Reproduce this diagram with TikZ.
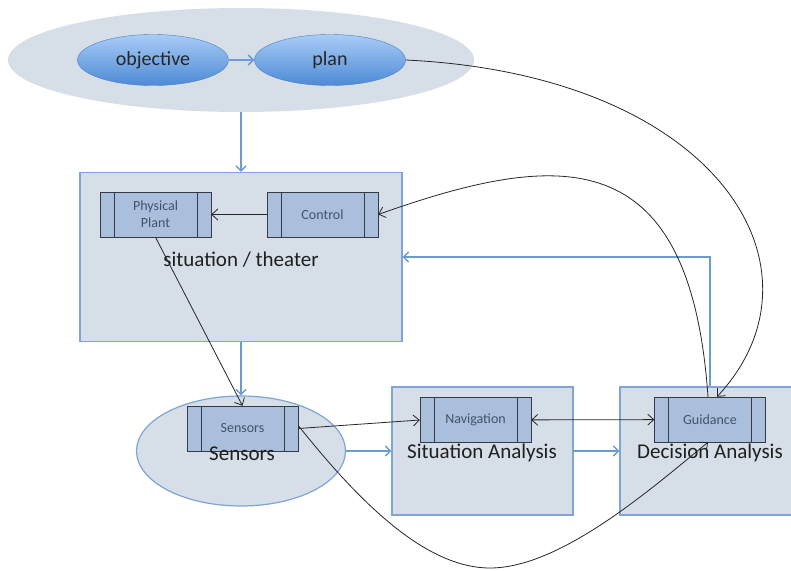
\documentclass[tikz,border=0pt]{standalone}
\usepackage{fontspec}
\setmainfont{Carlito}
\usetikzlibrary{shapes.geometric}
\usetikzlibrary{arrows.meta}
\definecolor{paneFill}{HTML}{D6DEE8}
\definecolor{paneLine}{HTML}{7DA5D5}
\definecolor{flowBlue}{HTML}{6B9BD3}
\definecolor{procFill}{HTML}{A9BFDC}
\definecolor{procLine}{HTML}{353B46}
\definecolor{procText}{HTML}{44526A}
\definecolor{bubbleTop}{HTML}{A9CCF7}
\definecolor{bubbleBottom}{HTML}{4C8AD5}
\definecolor{bubbleLine}{HTML}{4A7EBB}
\tikzset{
    pane/.style={draw=paneLine, fill=paneFill, line width=1.2pt, inner sep=0pt},
    bubble/.style={ellipse, draw=bubbleLine, top color=bubbleTop, bottom color=bubbleBottom,
        minimum width=151pt, minimum height=51pt, inner sep=0pt,
        font=\fontsize{20}{24}\selectfont, text=black!85},
    proc/.style={draw=procLine, fill=procFill, minimum width=111pt, minimum height=45pt,
        inner sep=0pt, font=\fontsize{14}{17}\selectfont, text=procText,
        path picture={\draw[procLine]
            ([xshift=14pt]path picture bounding box.north west) -- ([xshift=14pt]path picture bounding box.south west)
            ([xshift=-14pt]path picture bounding box.north east) -- ([xshift=-14pt]path picture bounding box.south east);}},
    paneLabel/.style={font=\fontsize{21}{25}\selectfont, text=black!88},
    flow/.style={draw=flowBlue, line width=1.5pt, -{Straight Barb[length=5pt,width=10pt]}},
    link/.style={draw=black!85, line width=0.8pt, -{Straight Barb[length=6pt,width=11pt]}}
}
\begin{document}
\begin{tikzpicture}[x=1pt,y=-1pt]
    \useasboundingbox (0,0) rectangle (791,570);
    \node[ellipse, fill=paneFill, minimum width=466pt, minimum height=104pt, inner sep=0pt]
        (intent) at (241,60) {};
    \node[bubble] (objective) at (153,60) {objective};
    \node[bubble] (plan) at (330,60) {plan};
    \draw[flow] (objective) -- (plan);

    \node[pane, minimum width=322pt, minimum height=169pt] (theater) at (241,257) {};
    \node[proc, align=center] (plant) at (155.5,214.5) {Physical\\Plant};
    \node[proc] (control) at (322.5,214.5) {Control};
    \node[paneLabel] (theaterlbl) at (241,260) {situation / theater};

    \node[ellipse, pane, minimum width=209pt, minimum height=110pt] (sensing) at (241,451) {};
    \node[proc] (sensors) at (242.5,428.5) {Sensors};
    \node[paneLabel] (sensinglbl) at (242,454) {Sensors};

    \node[pane, minimum width=181pt, minimum height=128pt] (sitan) at (482.5,451) {};
    \node[proc] (nav) at (475.5,420) {Navigation};
    \node[paneLabel] (sitanlbl) at (482,453) {Situation Analysis};

    \node[pane, minimum width=180pt, minimum height=128pt] (decan) at (710,451) {};
    \node[proc] (guid) at (710,419.5) {Guidance};
    \node[paneLabel] (decanlbl) at (710,453) {Decision Analysis};

    \draw[flow] (intent) -- (theater);
    \draw[flow] (theater) -- (sensing);
    \draw[flow] (sensing) -- (sitan);
    \draw[flow] (sitan) -- (decan);
    \draw[flow] (decan.north) |- (theater.east);

    \draw[link] (control) -- (plant);
    \draw[link] (plant.south) -- (sensors.north);
    \draw[link] (sensors.east) -- (nav.west);
    \draw[link, {Straight Barb[length=6pt,width=11pt]}-{Straight Barb[length=6pt,width=11pt]}] (nav) -- (guid);
    \draw[link] (plan.east) .. controls (720,75) and (835,270) .. ([xshift=7pt]guid.north);
    \draw[link] ([xshift=-2pt]guid.north) .. controls (690,140) and (560,150) .. (control.east);
    \draw[link] ([yshift=3pt]sensors.east) .. controls (350,490) and (420,568) .. (490,568)
        .. controls (560,568) and (650,490) .. ([xshift=-2pt]guid.south);
\end{tikzpicture}
\end{document}
